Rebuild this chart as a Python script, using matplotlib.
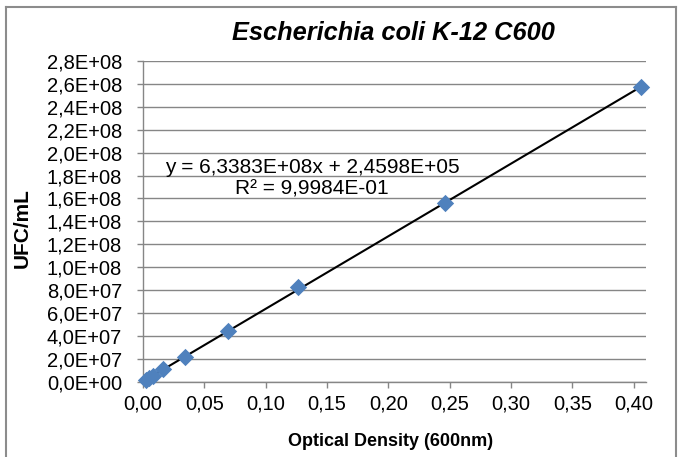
import matplotlib
matplotlib.use("Agg")
import matplotlib.pyplot as plt
from matplotlib.lines import Line2D
from matplotlib.ticker import FuncFormatter, MultipleLocator
import numpy as np

plt.rcParams['font.family'] = ['Liberation Sans', 'DejaVu Sans']

# Calibration data: optical density at 600 nm vs. colony-forming units per mL
od600 = [0.0025, 0.0045, 0.0085, 0.0166, 0.0342, 0.069, 0.126, 0.246, 0.4057]
ufc_ml = [1.6e6, 3.0e6, 5.0e6, 1.15e7, 2.15e7, 4.4e7, 8.3e7, 1.56e8, 2.575e8]

# Linear trendline coefficients and goodness of fit
slope = 6.3383e8
intercept = 2.4598e5
r_squared = 9.9984e-01

title = "Escherichia coli K-12 C600"
xlabel = "Optical Density (600nm)"
ylabel = "UFC/mL"


def sci_comma(v, digits):
    s = f"{v:.{digits}E}"
    mant, exp = s.split("E")
    sign = exp[0]
    return f"{mant.replace('.', ',')}E{sign}{exp[1:].zfill(2)}"


fig = plt.figure(figsize=(6.81, 4.57), dpi=100)
ax = fig.add_axes([0.21, 0.1648, 0.7386, 0.7017])

grid_c = "#868686"
ax.set_xlim(0, 0.41)
ax.set_ylim(0, 2.8e8)
ax.yaxis.set_major_locator(MultipleLocator(2e7))
ax.xaxis.set_major_locator(MultipleLocator(0.05))
ax.yaxis.set_major_formatter(FuncFormatter(lambda v, p: sci_comma(v, 1)))
ax.xaxis.set_major_formatter(FuncFormatter(lambda v, p: f"{v:.2f}".replace('.', ',')))

ax.grid(axis='y', color=grid_c, linewidth=1.0)
ax.set_axisbelow(True)
for side in ('top', 'right'):
    ax.spines[side].set_visible(False)
for side in ('left', 'bottom'):
    ax.spines[side].set_color(grid_c)
    ax.spines[side].set_linewidth(1.0)
ax.tick_params(axis='both', colors=grid_c, length=4, width=1.0,
               labelcolor='black', labelsize=14.5, direction='out')
ax.tick_params(axis='x', pad=5)
ax.tick_params(axis='y', pad=11)

# Trendline over the measured range
xs = np.array([min(od600), max(od600)])
ax.plot(xs, slope * xs + intercept, color='black', linewidth=1.5, zorder=2)

ax.scatter(od600, ufc_ml, marker='D', s=78, color='#4F81BD', zorder=3,
           linewidths=0, clip_on=False)

eq_text = (f"y = {sci_comma(slope, 4)}x + {sci_comma(intercept, 4)}\n"
           f"R² = {sci_comma(r_squared, 4)}")
ax.text(0.1378, 1.776e8, eq_text, ha='center', va='center', fontsize=15,
        multialignment='center', linespacing=1.12)

fig.text(0.578, 0.928, title, ha='center', va='center', fontsize=18.3,
         fontweight='bold', fontstyle='italic')
fig.text(0.573, 0.033, xlabel, ha='center', va='center', fontsize=13,
         fontweight='bold')
fig.text(0.033, 0.50, ylabel, ha='center', va='center', fontsize=15,
         fontweight='bold', rotation=90)

# Chart frame
frame_c = "#8c8c8c"
x0, x1, ytop = 5.5 / 681, 676 / 681, 1 - 7 / 457
for xd, yd in (([x0, x0], [0, ytop]), ([x0, x1], [ytop, ytop]), ([x1, x1], [ytop, 0])):
    fig.add_artist(Line2D(xd, yd, color=frame_c, linewidth=1.5,
                          transform=fig.transFigure))

fig.savefig("out.png", dpi=100)
